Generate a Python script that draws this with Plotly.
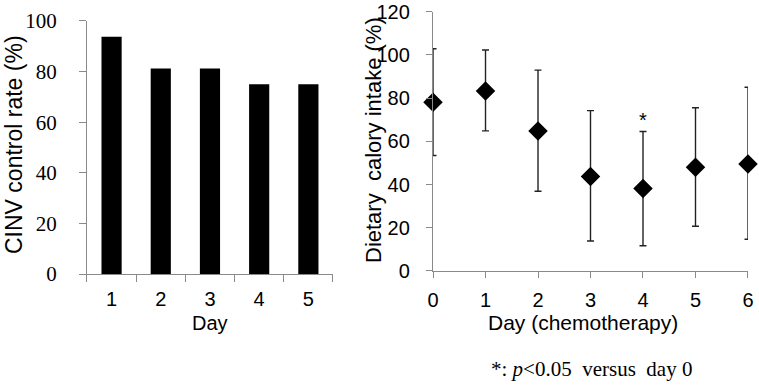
import plotly.graph_objects as go

# Left panel: CINV control rate
bar_days = ["1", "2", "3", "4", "5"]
cinv_rate = [93.75, 81.25, 81.25, 75.0, 75.0]

# Right panel: dietary calory intake (mean with upper/lower error)
intake_days = [0, 1, 2, 3, 4, 5, 6]
intake_mean = [78.0, 83.3, 64.8, 43.7, 38.1, 48.0, 49.5]
intake_err_up = [24.8, 18.9, 28.1, 30.5, 26.4, 27.5, 35.5]
intake_err_down = [24.6, 18.5, 27.9, 29.8, 26.4, 27.3, 34.8]
sig_day = 4
sig_y = 70

axis_col = "#8a8a8a"
serif = "Liberation Serif, Times New Roman, serif"
sans = "Liberation Sans, Arial, sans-serif"

fig = go.Figure()
fig.add_trace(go.Bar(x=bar_days, y=cinv_rate, marker=dict(color="black", line=dict(width=0)),
                     xaxis="x", yaxis="y", showlegend=False))
fig.add_trace(go.Scatter(x=intake_days, y=intake_mean, mode="markers",
                         marker=dict(symbol="diamond", size=15, color="black"),
                         error_y=dict(type="data", array=intake_err_up, arrayminus=intake_err_down,
                                      color="#222222", thickness=1.4, width=3.5),
                         cliponaxis=False, xaxis="x2", yaxis="y2", showlegend=False))

fig.update_layout(
    width=759, height=386, margin=dict(l=0, r=0, t=0, b=0, autoexpand=False),
    paper_bgcolor="white", plot_bgcolor="white", bargap=0.59,
    xaxis=dict(domain=[0.1146, 0.4387], type="category", tickson="boundaries",
               ticks="outside", ticklen=7, tickcolor=axis_col, showline=True, linecolor=axis_col,
               linewidth=1.3, showgrid=False, zeroline=False, automargin=False,
               ticklabelstandoff=7,
               tickfont=dict(family=sans, size=20, color="black"), anchor="y"),
    yaxis=dict(domain=[0.290, 0.9456], range=[0, 100], dtick=20, ticks="outside", ticklen=7,
               tickcolor=axis_col, showline=True, linecolor=axis_col, linewidth=1.3,
               showgrid=False, zeroline=False, automargin=False, ticklabelstandoff=18,
               tickfont=dict(family=serif, size=21, color="black"), anchor="x"),
    xaxis2=dict(domain=[0.5705, 0.9855], range=[0, 6], dtick=1, ticks="outside", ticklen=6,
                tickcolor=axis_col, showline=True, linecolor=axis_col, linewidth=1.3,
                showgrid=False, zeroline=False, automargin=False, ticklabelstandoff=5,
                tickfont=dict(family=sans, size=20, color="black"), anchor="y2"),
    yaxis2=dict(domain=[0.298, 0.970], range=[0, 120], dtick=20, ticks="outside", ticklen=6,
                tickcolor=axis_col, showline=True, linecolor=axis_col, linewidth=1.3,
                showgrid=False, zeroline=False, automargin=False, ticklabelstandoff=12,
                tickfont=dict(family=sans, size=20, color="black"), anchor="x2"),
)

anns = [
    dict(text="CINV control rate (%)", x=14 / 759, y=1 - 145 / 386, textangle=-90,
         font=dict(family=sans, size=23, color="black")),
    dict(text="Day", x=210 / 759, y=1 - 323 / 386,
         font=dict(family=sans, size=20, color="black")),
    dict(text="Dietary  calory intake (%)", x=374 / 759, y=1 - 140 / 386, textangle=-90,
         font=dict(family=sans, size=22, color="black")),
    dict(text="Day (chemotherapy)", x=583 / 759, y=1 - 322 / 386,
         font=dict(family=sans, size=21, color="black")),
    dict(text="*: <i>p</i><0.05  versus  day 0", x=591 / 759, y=1 - 369 / 386,
         font=dict(family=serif, size=21, color="black")),
]
for a in anns:
    fig.add_annotation(xref="paper", yref="paper", showarrow=False, xanchor="center",
                       yanchor="middle", **a)
fig.add_annotation(x=sig_day, y=sig_y, xref="x2", yref="y2", text="*", showarrow=False,
                   font=dict(family=sans, size=20, color="black"))

fig.write_html("out.html", config={"displayModeBar": False},
               post_script="document.body.style.margin='0';")
